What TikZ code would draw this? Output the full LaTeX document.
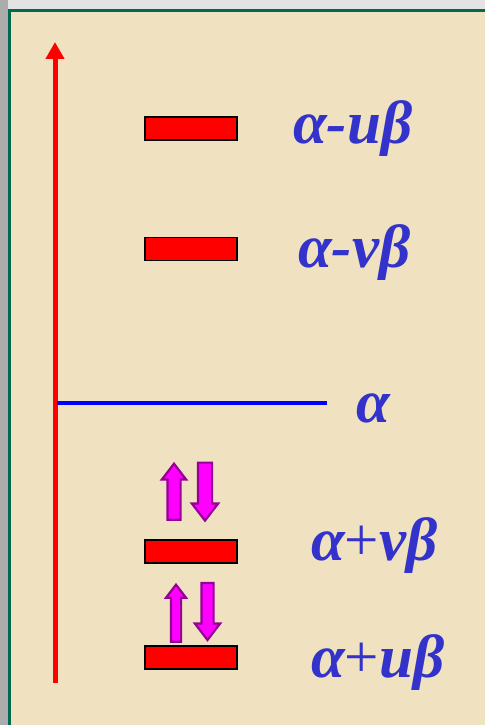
\documentclass[tikz,border=0pt]{standalone}
\usepackage{fontspec}
\setmainfont{Liberation Serif}
\usepackage{tikz}
\usetikzlibrary{shapes.arrows}
\usetikzlibrary{arrows.meta}
\definecolor{parch}{RGB}{240,226,192}
\definecolor{framegreen}{RGB}{0,105,80}
\definecolor{lblue}{RGB}{51,51,204}
\definecolor{spinfill}{RGB}{255,0,255}
\definecolor{spinline}{RGB}{150,0,150}
\tikzstyle{level} = [rectangle, minimum width=92, minimum height=23, draw=black, line width=1.5, fill=red, inner sep=0pt]
\tikzstyle{elabel} = [anchor=base west, inner sep=0pt, text=lblue, font=\fontsize{61}{61}\selectfont\bfseries\itshape]
\tikzstyle{spin} = [single arrow, draw=spinline, fill=spinfill, line width=2.2, inner ysep=0pt, single arrow head indent=0pt, single arrow tip angle=75]
\tikzstyle{spinup} = [spin, shape border rotate=90]
\tikzstyle{spindown} = [spin, shape border rotate=270]
\def \pl{{\mdseries\upshape+}}

\begin{document}
\begin{tikzpicture}[x=1pt, y=-1pt]
\useasboundingbox (0,0) rectangle (485,725);
% Background and frame
\fill[gray!65] (0,0) rectangle (485,725);
\fill[gray!22] (8,0) rectangle (485,9);
\fill[parch] (8,9) rectangle (485,725);
\fill[framegreen] (8,9) rectangle (11,725);
\fill[framegreen] (8,9) rectangle (485,12);
% Energy axis
\coordinate (axisbot) at (55,683);
\coordinate (axistop) at (55,42);
\draw[red, line width=5, -{Triangle[width=18pt, length=17pt]}] (axisbot) -- (axistop);
% Non-bonding level
\coordinate (abeg) at (57,403);
\coordinate (aend) at (327,403);
\draw[blue, line width=4] (abeg) -- (aend);
% Levels, antibonding on top
\node[level] (l1) at (191,128.5) {};
\node[level] (l2) at (191,249) {};
\node[level] (l3) at (191,551.5) {};
\node[level] (l4) at (191,657.5) {};
% Level labels
\node[elabel] (t1) at (293,143) {α-uβ};
\node[elabel] (t2) at (298,267) {α-vβ};
\node[elabel] (t0) at (356,422) {α};
\node[elabel] (t3) at (311,560) {α\pl vβ};
\node[elabel] (t4) at (311,677) {α\pl uβ};
% Electron pairs
\node[spinup, minimum height=56, minimum width=24, inner xsep=5.5, single arrow head extend=5.5] (up1) at (174,496) {};
\node[spindown, minimum height=58, minimum width=26, inner xsep=6, single arrow head extend=6] (dn1) at (205,487) {};
\node[spinup, minimum height=57, minimum width=20, inner xsep=4, single arrow head extend=5] (up2) at (176,616.5) {};
\node[spindown, minimum height=57, minimum width=25, inner xsep=5, single arrow head extend=6.5] (dn2) at (207.5,607.5) {};
\end{tikzpicture}
\end{document}
